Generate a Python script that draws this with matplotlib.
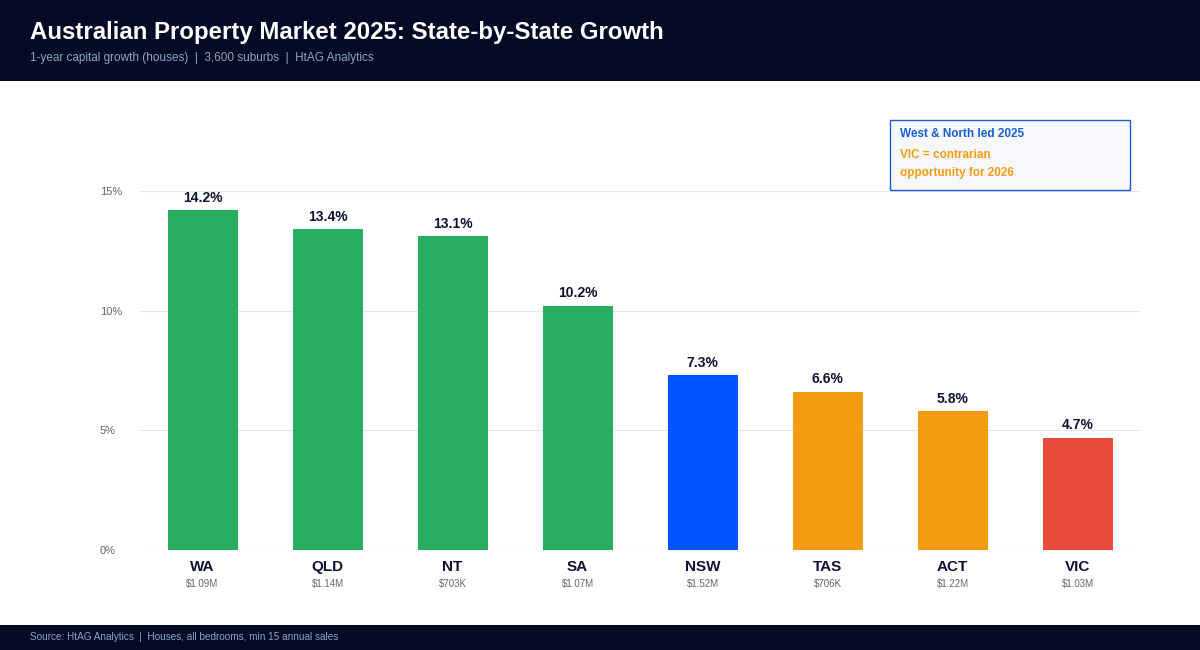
import matplotlib.pyplot as plt
from matplotlib.patches import Rectangle, FancyBboxPatch
import matplotlib.transforms as mtransforms

plt.rcParams['font.family'] = ['Liberation Sans', 'DejaVu Sans']

# data
states = ['WA', 'QLD', 'NT', 'SA', 'NSW', 'TAS', 'ACT', 'VIC']
growth = [14.2, 13.4, 13.1, 10.2, 7.3, 6.6, 5.8, 4.7]
median_price = ['$1.09M', '$1.14M', '$703K', '$1.07M', '$1.52M', '$706K', '$1.22M', '$1.03M']
bar_colors = ['#27ae60', '#27ae60', '#27ae60', '#27ae60', '#0055ff', '#f39c12', '#f39c12', '#e74c3c']
y_ticks = [0, 5, 10, 15]

navy = '#020a26'
sub_col = '#8aa6c4'

fig = plt.figure(figsize=(12, 6.5), dpi=100)
fig.patch.set_facecolor('white')

# header / footer bands
fig.patches.append(Rectangle((0, 1 - 81/650), 1, 81/650, transform=fig.transFigure,
                             facecolor=navy, edgecolor='none', zorder=0))
fig.patches.append(Rectangle((0, 0), 1, 25/650, transform=fig.transFigure,
                             facecolor=navy, edgecolor='none', zorder=0))
fig.text(30/1200, 1 - 33/650, 'Australian Property Market 2025: State-by-State Growth',
         color='white', fontsize=17.3, fontweight='bold', va='center', ha='left')
fig.text(30/1200, 1 - 57.5/650, '1-year capital growth (houses)  |  3,600 suburbs  |  HtAG Analytics',
         color=sub_col, fontsize=8.5, va='center', ha='left')
fig.text(30/1200, 1 - 636.5/650, 'Source: HtAG Analytics  |  Houses, all bedrooms, min 15 annual sales',
         color=sub_col, fontsize=7.2, va='center', ha='left')

ax = fig.add_axes([140/1200, 1 - 550/650, 1000/1200, 359/650])
x = range(len(states))
bars = ax.bar(x, growth, width=0.56, color=bar_colors, zorder=3)
ax.set_xlim(-0.5, len(states) - 0.5)
ax.set_ylim(0, 15)
ax.set_yticks(y_ticks)
ax.set_yticklabels([f'{t}%' for t in y_ticks], color='#666666', fontsize=8)
ax.tick_params(axis='y', length=0, pad=29)
ax.set_xticks([])
for lbl in ax.get_yticklabels():
    lbl.set_horizontalalignment('left')
for s in ax.spines.values():
    s.set_visible(False)
ax.grid(axis='y', color='#e6e6e6', linewidth=0.8, zorder=0)

for b, v in zip(bars, growth):
    ax.annotate(f'{v}%', (b.get_x() + b.get_width()/2, v), xytext=(0, 4),
                textcoords='offset points', ha='center', va='bottom',
                fontsize=10, fontweight='bold', color='#0d1433')

trans = mtransforms.blended_transform_factory(ax.transData, ax.transAxes)
for i, (s, p) in enumerate(zip(states, median_price)):
    ax.text(i, -17/359, s, transform=trans, ha='center', va='center',
            fontsize=11, fontweight='bold', color='#0d1433')
    ax.text(i, -34/359, p, transform=trans, ha='center', va='center',
            fontsize=7, color='#666666')

# annotation box
box = FancyBboxPatch((890/1200, 1 - 190/650), 240/1200, 70/650, boxstyle='square,pad=0',
                     transform=fig.transFigure, facecolor='#f6f8fb', edgecolor='#1a5fd6',
                     linewidth=1, zorder=5)
fig.patches.append(box)
fig.text(900/1200, 1 - 134/650, 'West & North led 2025', color='#1a5fd6',
         fontsize=8.5, fontweight='bold', va='center', ha='left', zorder=6)
fig.text(900/1200, 1 - 155/650, 'VIC = contrarian', color='#f39c12',
         fontsize=8.5, fontweight='bold', va='center', ha='left', zorder=6)
fig.text(900/1200, 1 - 173/650, 'opportunity for 2026', color='#f39c12',
         fontsize=8.5, fontweight='bold', va='center', ha='left', zorder=6)

fig.savefig('out.png', dpi=100, facecolor=fig.get_facecolor())
